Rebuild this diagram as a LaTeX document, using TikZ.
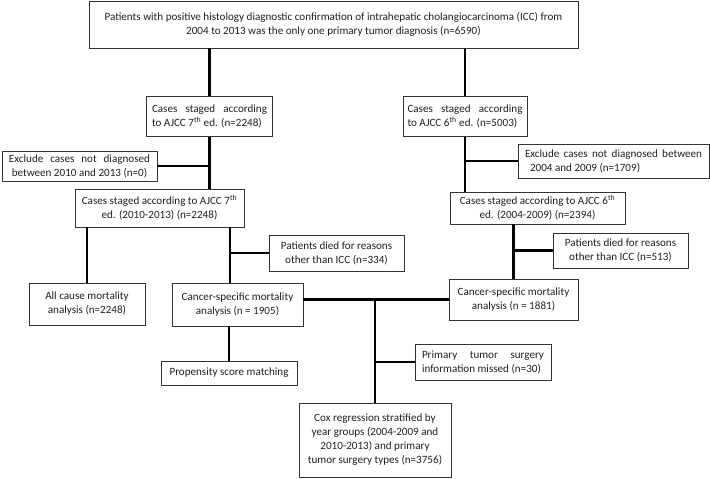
\documentclass[tikz,border=0pt]{standalone}
\usepackage{fontspec}
\setmainfont{Carlito}
\usetikzlibrary{positioning}
\tikzset{
  box/.style={draw=black!80, line width=0.8pt, inner sep=0pt, align=center, text=black!88, font=\fontsize{11.1}{14}\selectfont},
  link/.style={line width=2.8pt},
  thinlink/.style={line width=1.6pt},
}
\newcommand{\jline}[2]{\makebox[#1][s]{#2}}

\begin{document}
\begin{tikzpicture}[x=1pt,y=-1pt]
\useasboundingbox (0,0) rectangle (710,479);
\node[box,minimum width=489pt,minimum height=47pt] (top) at (333.5,24.5) {Patients with positive histology diagnostic confirmation of intrahepatic cholangiocarcinoma (ICC) from\\2004 to 2013 was the only one primary tumor diagnosis (n=6590)};

\node[box,minimum width=126pt,minimum height=40pt,align=left] (a7) at (209.5,116.5) {\jline{115pt}{Cases staged according}\\to AJCC 7\textsuperscript{th} ed. (n=2248)};
\node[box,minimum width=124pt,minimum height=40pt,align=left] (a6) at (465,116.5) {\jline{115pt}{Cases staged according}\\to AJCC 6\textsuperscript{th} ed. (n=5003)};

\node[box,minimum width=155pt,minimum height=30pt] (exL) at (79.5,166) {\jline{141pt}{Exclude cases not diagnosed}\\between 2010 and 2013 (n=0)};
\node[box,minimum width=191pt,minimum height=34pt,align=left] (exR) at (613.5,161) {\jline{177pt}{Exclude cases not diagnosed between}\\\hspace*{5pt}2004 and 2009 (n=1709)};

\node[box,minimum width=169pt,minimum height=38pt] (b7) at (159.5,208) {Cases staged according to AJCC 7\textsuperscript{th}\\ed. (2010-2013) (n=2248)};
\node[box,minimum width=175pt,minimum height=32pt] (b6) at (537.5,208) {Cases staged according to AJCC 6\textsuperscript{th}\\ed. (2004-2009) (n=2394)};

\node[box,minimum width=135pt,minimum height=36pt] (d334) at (336.5,253) {Patients died for reasons\\other than ICC (n=334)};
\node[box,minimum width=135pt,minimum height=35pt] (d513) at (620.5,250.5) {Patients died for reasons\\other than ICC (n=513)};

\node[box,minimum width=116pt,minimum height=42pt] (allc) at (87,304) {All cause mortality\\analysis (n=2248)};
\node[box,minimum width=131pt,minimum height=43pt] (csm7) at (237.5,304.5) {Cancer-specific mortality\\analysis (n = 1905)};
\node[box,minimum width=129pt,minimum height=41pt] (csm6) at (513.5,299.5) {Cancer-specific mortality\\analysis (n = 1881)};

\node[box,minimum width=136pt,minimum height=24pt] (prop) at (229,373) {Propensity score matching};
\node[box,minimum width=136pt,minimum height=36pt,align=left] (prim) at (483,362) {\jline{122pt}{Primary tumor surgery}\\information missed (n=30)};
\node[box,minimum width=152pt,minimum height=74pt] (cox) at (375,440) {Cox regression stratified by\\year groups (2004-2009 and\\2010-2013) and primary\\tumor surgery types (n=3756)};

\coordinate (t7) at ([xshift=-7.5pt]csm7.north);

% left branch
\draw[link] (a7.north) -- (a7.north |- top.south);
\draw[link] (a7.south) -- (a7.south |- b7.north);
\draw[link] (exL.east) -- (exL.east -| a7.south);
\draw[link] (allc.north) -- (allc.north |- b7.south);
\draw[link] (t7) -- (t7 |- b7.south);
\draw[link] (d334.west) -- (d334.west -| t7);
\draw[thinlink] (prop.north) -- (prop.north |- csm7.south);

% right branch
\draw[link] (a6.north) -- (a6.north |- top.south);
\draw[link] (a6.south) -- (a6.south |- b6.north);
\draw[link] (exR.west) -- (exR.west -| a6.south);
\draw[link] (csm6.north) -- (csm6.north |- b6.south);
\draw[link] (d513.west) -- (d513.west -| csm6.north);

% merge
\draw[link] (csm6.west) -- (csm6.west -| csm7.east);
\draw[line width=2.2pt] (cox.north) -- (cox.north |- csm6.west);
\draw[link] (prim.west) -- (prim.west -| cox.north);
\end{tikzpicture}
\end{document}
